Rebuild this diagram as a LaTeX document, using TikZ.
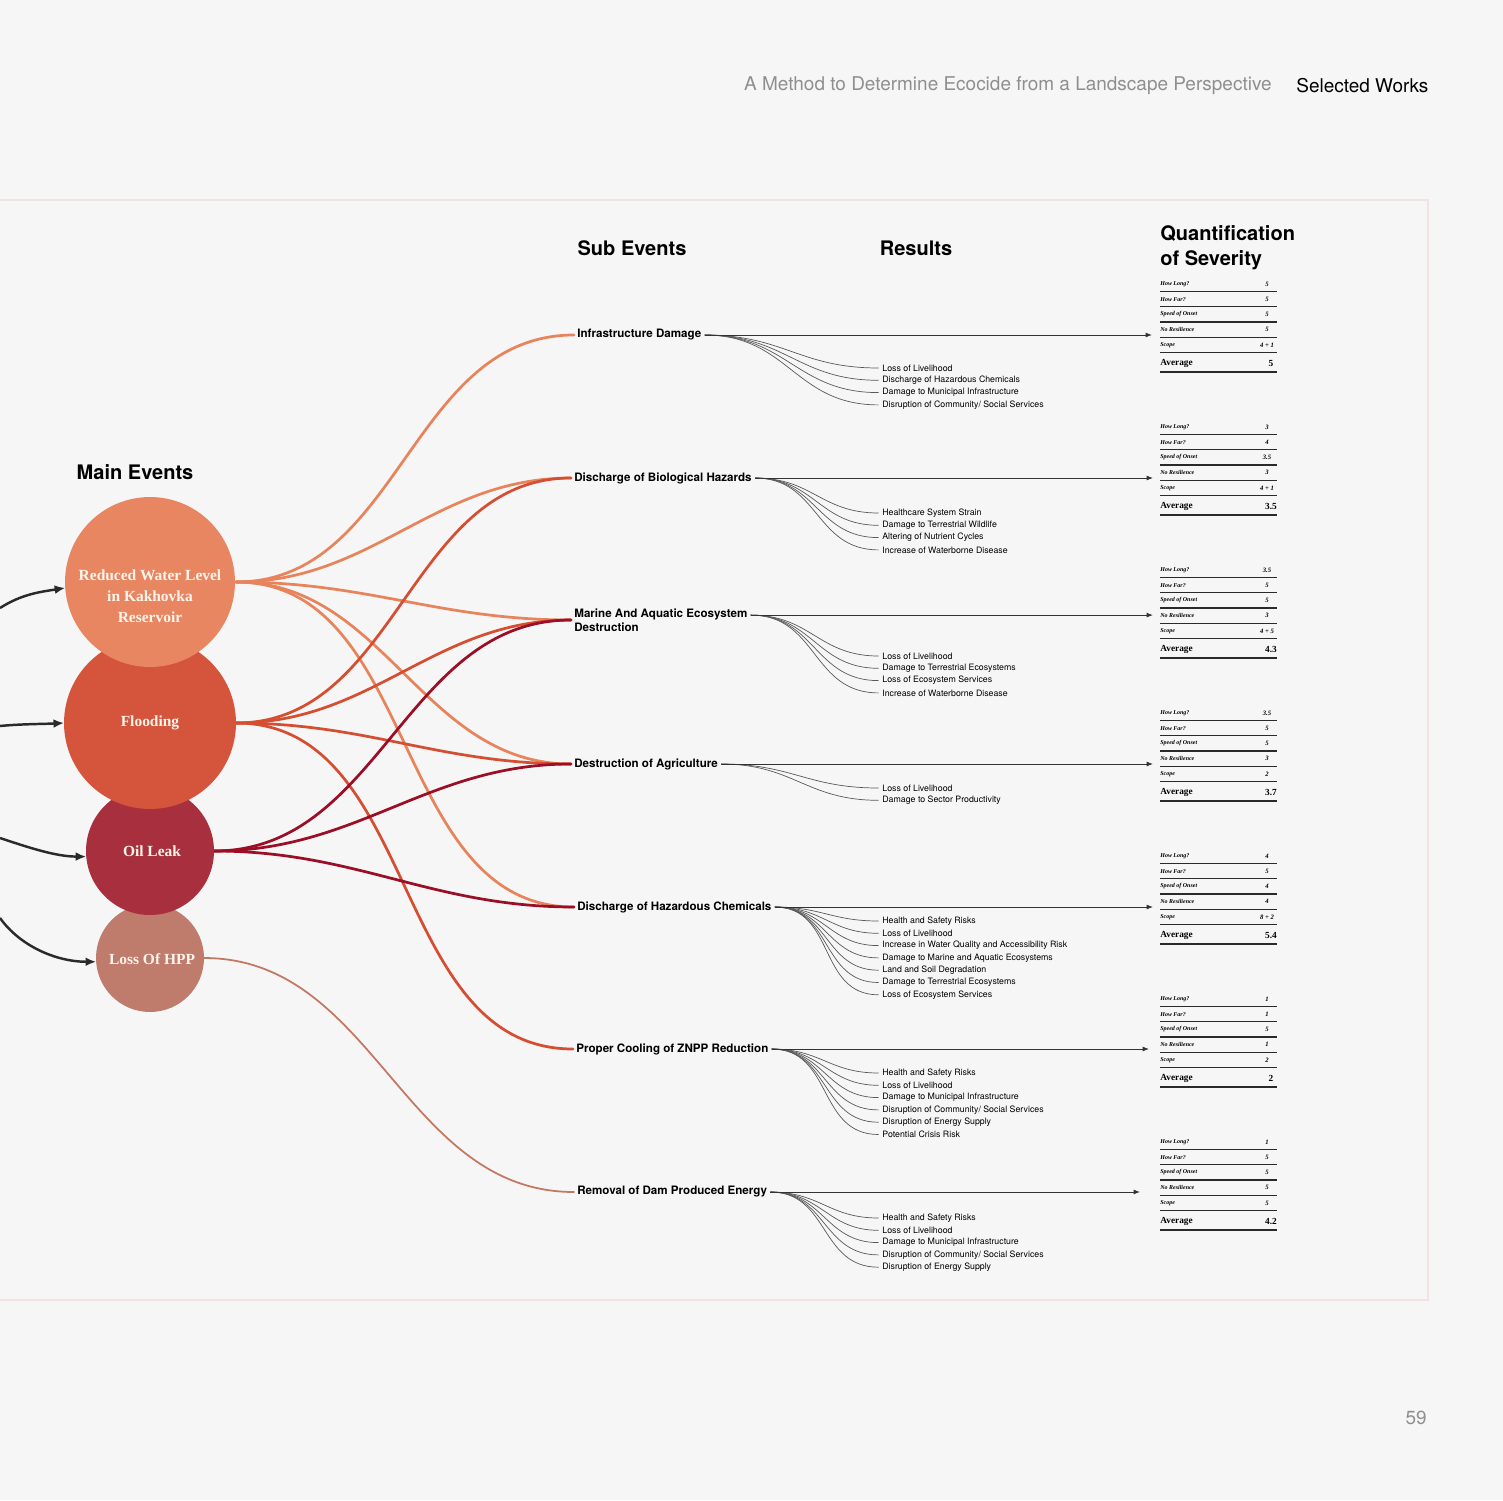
\documentclass[tikz,border=0pt]{standalone}
\usepackage{fontspec}
\setmainfont{TeX Gyre Heros}
\newfontfamily\circfont{Liberation Serif}
\usetikzlibrary{positioning, calc, arrows.meta}

\definecolor{pagebg}{HTML}{F6F6F6}
\definecolor{framecol}{HTML}{F2E2E2}
\definecolor{headgrey}{HTML}{8F8F8F}
\definecolor{reservoir}{HTML}{E98662}
\definecolor{flood}{HTML}{D4543C}
\definecolor{oil}{HTML}{A8303E}
\definecolor{hpp}{HTML}{BF7B6C}
\definecolor{reservoirline}{HTML}{E8845C}
\definecolor{floodline}{HTML}{D54E32}
\definecolor{oilline}{HTML}{9B0E26}
\definecolor{hppline}{HTML}{C47864}
\definecolor{inkdark}{HTML}{2A2A28}

\begin{document}
\begin{tikzpicture}[
x=0.02cm, y=-0.02cm,
    header/.style={inner sep=0, font=\fontsize{10.8pt}{12pt}\selectfont},
    coltitle/.style={inner sep=0, align=left, font=\fontsize{11.4pt}{14pt}\selectfont\bfseries},
    mainev/.style={circle, inner sep=0, outer sep=0},
    maintext/.style={inner sep=0, align=center, text=white!92!orange, font=\circfont\fontsize{8.8pt}{12pt}\selectfont\bfseries},
    subev/.style={anchor=west, inner sep=1.7pt, align=left, font=\fontsize{6.6pt}{8pt}\selectfont\bfseries},
    result/.style={anchor=west, inner sep=2pt, font=\fontsize{5pt}{6pt}\selectfont},
    qlabel/.style={anchor=west, inner sep=0, font=\circfont\fontsize{3.4pt}{4pt}\selectfont\bfseries\itshape},
    qvalue/.style={inner sep=0, font=\circfont\fontsize{3.8pt}{4pt}\selectfont\bfseries\itshape},
    qavg/.style={inner sep=0, font=\circfont\fontsize{5.3pt}{6pt}\selectfont\bfseries},
    qrule/.style={draw=inkdark, line width=0.75pt},
    link/.style={line width=1.55pt, line cap=round},
    branch/.style={draw=black!65, line width=0.4pt},
    feed/.style={draw=black!80, line width=0.5pt, -{Latex[length=3.6pt,width=2.8pt]}},
    inflow/.style={draw=inkdark, line width=1.4pt, -{Latex[length=6pt,width=5pt]}}
]
    \useasboundingbox[fill=pagebg] (0,0) rectangle (1503,1500);
    \draw[framecol, line width=0.6pt] (-5,200) rectangle (1428,1300);

    % --- Page header ---
    \node[header, anchor=east, text=headgrey] (htitle) at (1272,86) {A Method to Determine Ecocide from a Landscape Perspective};
    \node[header, anchor=west] (hworks) at (1296,86) {Selected Works};
    \node[header, anchor=east, text=headgrey] (pnum) at (1427,1418) {59};

    % --- Column titles ---
    \node[coltitle] (tmain) at (135,472) {Main Events};
    \node[coltitle] (tsub) at (632,248) {Sub Events};
    \node[coltitle] (tres) at (916,248) {Results};
    \node[coltitle, anchor=west] (tquant) at (1160,248) {Quantification\\of Severity};

    % --- Sub events ---
    \node[subev] (s1) at (574,335) {Infrastructure Damage};
    \node[subev] (s2) at (571,478) {Discharge of Biological Hazards};
    \node[subev] (s3) at (571,620) {Marine And Aquatic Ecosystem\\Destruction};
    \node[subev] (s4) at (571,764) {Destruction of Agriculture};
    \node[subev] (s5) at (574,907) {Discharge of Hazardous Chemicals};
    \node[subev] (s6) at (573,1049) {Proper Cooling of ZNPP Reduction};
    \node[subev] (s7) at (574,1192) {Removal of Dam Produced Energy};

    \coordinate (o1) at (s1.east);
    \coordinate (o2) at (s2.east);
    \coordinate (o3) at ([yshift=2.8pt]s3.east);
    \coordinate (o4) at (s4.east);
    \coordinate (o5) at (s5.east);
    \coordinate (o6) at (s6.east);
    \coordinate (o7) at (s7.east);

    % --- Links from main events to sub events ---
    \foreach \t in {s1,s2,s3,s4,s5}
        \draw[link, reservoirline] (236,582) to[out=0,in=180] (\t.west);
    \foreach \t in {s2,s3,s4,s6}
        \draw[link, floodline] (236,723) to[out=0,in=180] (\t.west);
    \foreach \t in {s3,s4,s5}
        \draw[link, oilline] (214,851) to[out=0,in=180] (\t.west);
    \draw[link, hppline, line width=1pt] (204,958) to[out=0,in=180] (s7.west);

    % --- Main events ---
    \node[mainev, fill=hpp, minimum size=2.16cm] (lh) at (150,958) {};
    \node[mainev, fill=oil, minimum size=2.56cm] (ol) at (150,851) {};
    \node[mainev, fill=flood, minimum size=3.44cm] (fl) at (150,723) {};
    \node[mainev, fill=reservoir, minimum size=3.4cm] (rw) at (150,582) {};

    \node[maintext] (rwtext) at (150,596) {Reduced Water Level\\in Kakhovka\\Reservoir};
    \node[maintext] (fltext) at (150,723) {Flooding};
    \node[maintext] (oltext) at (152,851) {Oil Leak};
    \node[maintext] (lhtext) at (152,959) {Loss Of HPP};

    % incoming arrows from the previous page
    \coordinate (in1) at (0,608);
    \coordinate (in2) at (0,726);
    \coordinate (in3) at (0,838);
    \coordinate (in4) at (0,918);
    \draw[inflow] (in1) .. controls +(22,-14) and +(-25,4) .. (rw.184);
    \draw[inflow] (in2) .. controls +(20,-2) and +(-20,1) .. (fl.west);
    \draw[inflow] (in3) .. controls +(30,10) and +(-30,0) .. (ol.185);
    \draw[inflow] (in4) .. controls +(20,28) and +(-40,0) .. (lh.184);

    % --- Results ---
    \foreach \g/\ry/\items in {
        1/368/{Loss of Livelihood, Discharge of Hazardous Chemicals, Damage to Municipal Infrastructure, {Disruption of Community/ Social Services}},
        2/513/{Healthcare System Strain, Damage to Terrestrial Wildlife, Altering of Nutrient Cycles, Increase of Waterborne Disease},
        3/656/{Loss of Livelihood, Damage to Terrestrial Ecosystems, Loss of Ecosystem Services, Increase of Waterborne Disease},
        4/788/{Loss of Livelihood, Damage to Sector Productivity},
        5/921/{Health and Safety Risks, Loss of Livelihood, Increase in Water Quality and Accessibility Risk, Damage to Marine and Aquatic Ecosystems, Land and Soil Degradation, Damage to Terrestrial Ecosystems, Loss of Ecosystem Services},
        6/1073/{Health and Safety Risks, Loss of Livelihood, Damage to Municipal Infrastructure, {Disruption of Community/ Social Services}, Disruption of Energy Supply, Potential Crisis Risk},
        7/1218/{Health and Safety Risks, Loss of Livelihood, Damage to Municipal Infrastructure, {Disruption of Community/ Social Services}, Disruption of Energy Supply}}{
        \foreach \r [count=\k] in \items {
            \node[result] (r\g-\k) at (878.5,{\ry+12.3*(\k-1)}) {\r};
            \draw[branch] (o\g) to[out=0,in=180, looseness=1.15] (r\g-\k.west);
        }
    }

    % --- Quantification of severity ---
    \foreach \ty/\qx/\vals/\avg [count=\i] in {
        284/1152/{5,5,5,5,4 + 1}/5,
        427/1153/{3,4,3.5,3,4 + 1}/3.5,
        570/1153/{3.5,5,5,3,4 + 5}/4.3,
        713/1153/{3.5,5,5,3,2}/3.7,
        856/1153/{4,5,4,4,8 + 2}/5.4,
        999/1149/{1,1,5,1,2}/2,
        1142/1140/{1,5,5,5,5}/4.2}{
        \foreach \lab [count=\k] in {How Long?,How Far?,Speed of Onset,No Resilience,Scope}{
            \node[qlabel] (q\i-l\k) at (1160,{\ty+15.25*(\k-1)}) {\lab};
            \draw[qrule] (1160,{\ty+15.25*(\k-1)+7.5}) -- (1277,{\ty+15.25*(\k-1)+7.5});
        }
        \foreach \v [count=\k] in \vals
            \node[qvalue] (q\i-v\k) at (1267,{\ty+15.25*(\k-1)}) {\v};
        \node[qavg, anchor=west] (q\i-avg) at (1160,\ty+79) {Average};
        \node[qavg] (q\i-avgv) at (1271,\ty+79) {\avg};
        \draw[qrule] (1160,\ty+88) -- (1277,\ty+88);
        \coordinate (q\i) at (\qx,\ty+51);
    }

    % sub events feed the tables
    \foreach \i in {1,...,7}
        \draw[feed] (o\i) -- (o\i -| q\i);

\end{tikzpicture}
\end{document}
